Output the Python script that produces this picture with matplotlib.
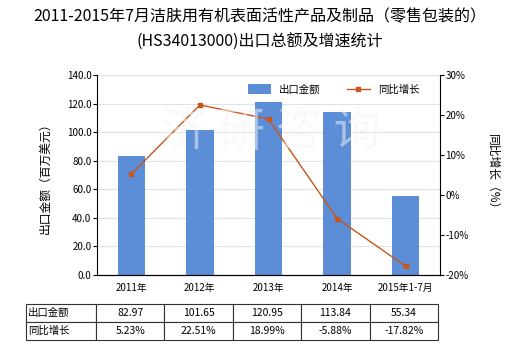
import matplotlib
matplotlib.use("Agg")
import matplotlib.pyplot as plt
import numpy as np

plt.rcParams['font.family'] = ['Noto Sans CJK SC', 'DejaVu Sans']

# data
years = ['2011年', '2012年', '2013年', '2014年', '2015年1-7月']
export_value = [82.97, 101.65, 120.95, 113.84, 55.34]
growth = [5.23, 22.51, 18.99, -5.88, -17.82]
value_labels = ['82.97', '101.65', '120.95', '113.84', '55.34']
growth_labels = ['5.23%', '22.51%', '18.99%', '-5.88%', '-17.82%']

bar_color = '#5B8ED6'
line_color = '#C8561A'

fig = plt.figure(figsize=(5.2, 3.5), dpi=100)
ax = fig.add_axes([97 / 520, 1 - 275 / 350, 343 / 520, 200 / 350])
x = np.arange(len(years))

ax.bar(x, export_value, width=0.4, color=bar_color, label='出口金额', zorder=2)
ax.set_xlim(-0.5, len(years) - 0.5)
ax.set_ylim(0, 140)
ax.set_yticks(np.arange(0, 141, 20))
ax.set_yticklabels([f'{v:.1f}' for v in np.arange(0, 141, 20)], fontsize=7)
ax.set_xticks(x)
ax.set_xticklabels(years, fontsize=7)
ax.tick_params(axis='x', length=0, pad=6)
ax.tick_params(axis='y', length=3, width=0.8, pad=1)
ax.grid(axis='y', color='#DDE3E8', linewidth=0.8, zorder=0)
ax.spines['top'].set_visible(False)
ax.spines['right'].set_visible(False)
ax.set_ylabel('出口金额（百万美元）', fontsize=8.5, labelpad=11)

ax2 = ax.twinx()
ax2.plot(x, growth, color=line_color, linewidth=1, marker='s', markersize=3,
         label='同比增长', zorder=3)
ax2.set_ylim(-20, 30)
ax2.set_yticks(np.arange(-20, 31, 10))
ax2.set_yticklabels([f'{v}%' for v in range(-20, 31, 10)], fontsize=7)
ax2.tick_params(axis='y', length=3, width=0.8, pad=1)
ax2.spines['top'].set_visible(False)
ax2.spines['left'].set_visible(False)
ax2.set_ylabel('同比增长（%）', fontsize=8.5, rotation=270, labelpad=22)

h1, l1 = ax.get_legend_handles_labels()
h2, l2 = ax2.get_legend_handles_labels()
ax2.legend(h1 + h2, l1 + l2, loc='upper center', bbox_to_anchor=(0.69, 1.0),
           ncol=2, frameon=False, fontsize=7.5, handlelength=2.2,
           handleheight=1.1, columnspacing=2.5)

fig.text(0.5, 1 - 17 / 350, '2011-2015年7月洁肤用有机表面活性产品及制品（零售包装的）',
         ha='center', va='center', fontsize=11.5)
fig.text(0.5, 1 - 42 / 350, '(HS34013000)出口总额及增速统计',
         ha='center', va='center', fontsize=11.5)

# faint watermark
fig.text(0.52, 0.62, '济 研 咨 询', ha='center', va='center', fontsize=34,
         color='#F5F5F5', alpha=0.5, zorder=0)

# data table below the chart
tax = fig.add_axes([26 / 520, 1 - 340 / 350, 412 / 520, 36 / 350])
tax.axis('off')
cells = [['出口金额'] + value_labels, ['同比增长'] + growth_labels]
widths = [70 / 412] + [342 / 412 / 5] * 5
tbl = tax.table(cellText=cells, colWidths=widths, bbox=[0, 0, 1, 1],
                cellLoc='center')
tbl.auto_set_font_size(False)
tbl.set_fontsize(7.5)
for (r, c), cell in tbl.get_celld().items():
    cell.set_linewidth(0.8)
    cell.set_edgecolor('#333333')
    if c == 0:
        cell.set_text_props(ha='left')
        cell.PAD = 0.03

plt.savefig('out.png', dpi=100)
